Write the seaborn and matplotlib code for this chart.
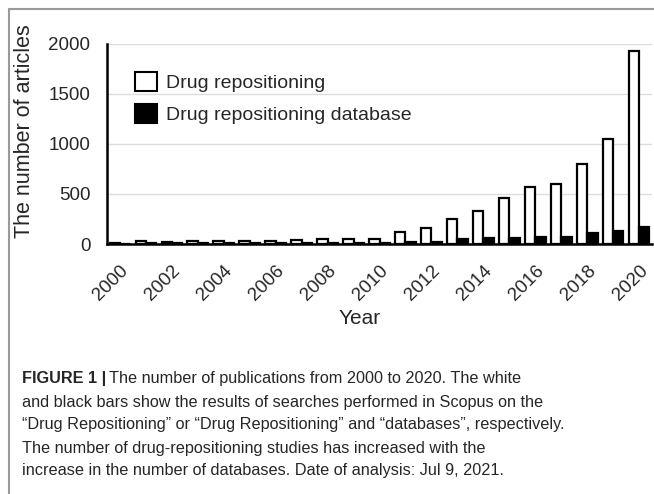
import pandas as pd
import matplotlib.pyplot as plt
import seaborn as sns
from matplotlib.lines import Line2D
from matplotlib.patches import Patch

# --- DATA ---
years = [str(y) for y in range(2000, 2021)]
drug_repositioning = [5, 25, 20, 25, 25, 30, 30, 40, 50, 50, 50,
                      117, 157, 247, 330, 457, 573, 600, 797, 1047, 1925]
drug_repositioning_db = [2, 5, 5, 5, 5, 5, 5, 8, 10, 8, 8,
                         17, 23, 45, 55, 60, 67, 73, 113, 133, 170]
series_names = ["Drug repositioning", "Drug repositioning database"]
tick_years = years[::2]

caption_lines = [
    "The number of publications from 2000 to 2020. The white",
    "and black bars show the results of searches performed in Scopus on the",
    "\u201cDrug Repositioning\u201d or \u201cDrug Repositioning\u201d and \u201cdatabases\u201d, respectively.",
    "The number of drug-repositioning studies has increased with the",
    "increase in the number of databases. Date of analysis: Jul 9, 2021.",
]

df = pd.DataFrame({
    "Year": years * 2,
    "Articles": drug_repositioning + drug_repositioning_db,
    "Series": [series_names[0]] * len(years) + [series_names[1]] * len(years),
})

# --- PLOT ---
sns.set_style("white")
plt.rcParams["font.family"] = ["Liberation Sans", "DejaVu Sans"]

W, H = 654, 494
fig = plt.figure(figsize=(W / 100, H / 100), dpi=100)
ax = fig.add_axes([107 / W, 1 - 244 / H, 545 / W, 200 / H])

sns.barplot(data=df, x="Year", y="Articles", hue="Series",
            palette={series_names[0]: "white", series_names[1]: "black"},
            edgecolor="black", linewidth=1.6, width=0.8, ax=ax, legend=False)

ax.set_ylim(0, 2000)
ax.set_xlim(-0.5, len(years) - 0.5)
ax.set_yticks([0, 500, 1000, 1500, 2000])
ax.set_yticklabels(["0", "500", "1000", "1500", "2000"], fontsize=13.5)
ax.set_xticks([years.index(y) for y in tick_years])
ax.set_xticklabels(tick_years, rotation=45, ha="right", rotation_mode="anchor",
                   fontsize=13.5)
ax.tick_params(axis="y", length=0, pad=12)
ax.tick_params(axis="x", length=0, pad=13)
ax.set_xlabel("")
ax.set_ylabel("")
ax.yaxis.grid(True, color="#dcdcdc", lw=1)
ax.set_axisbelow(True)
for s in ["top", "right"]:
    ax.spines[s].set_visible(False)
for s in ["left", "bottom"]:
    ax.spines[s].set_color("black")
    ax.spines[s].set_linewidth(1.8)

handles = [Patch(facecolor="white", edgecolor="black", lw=1.5),
           Patch(facecolor="black", edgecolor="black", lw=1.5)]
ax.legend(handles, series_names, loc="upper left", bbox_to_anchor=(0.02, 0.945),
          frameon=False, fontsize=14, handlelength=1.1, handleheight=1.1,
          handletextpad=0.45, labelspacing=0.6)

fig.text(25 / W, 1 - 131 / H, "The number of articles", rotation=90,
         ha="center", va="center", fontsize=15.5)
fig.text(360 / W, 1 - 318 / H, "Year", ha="center", va="center", fontsize=15)

# --- frame lines ---
fig.add_artist(Line2D([9 / W, 1], [1 - 9 / H, 1 - 9 / H],
                      transform=fig.transFigure, color="#9a9a9a", lw=1.5))
fig.add_artist(Line2D([9 / W, 9 / W], [0, 1 - 9 / H],
                      transform=fig.transFigure, color="#9a9a9a", lw=1.5))

# --- caption ---
cap_size = 11.7
line_y = [378, 402, 425, 448, 471]
bold = fig.text(22 / W, 1 - line_y[0] / H, "FIGURE 1 |", fontsize=cap_size,
                fontweight="bold", va="center")
fig.canvas.draw()
bb = bold.get_window_extent(renderer=fig.canvas.get_renderer())
fig.text(bb.x1 / W + 3 / W, 1 - line_y[0] / H, caption_lines[0], fontsize=cap_size,
         va="center")
for txt, yy in zip(caption_lines[1:], line_y[1:]):
    fig.text(22 / W, 1 - yy / H, txt, fontsize=cap_size, va="center")

fig.savefig("out.png", dpi=100)
